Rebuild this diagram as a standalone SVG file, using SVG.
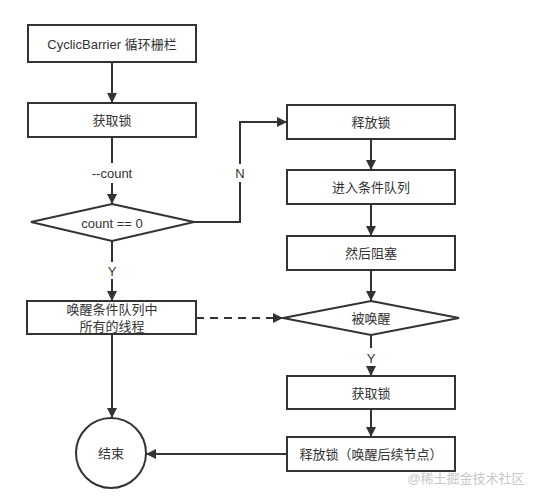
<svg xmlns="http://www.w3.org/2000/svg" width="534" height="496" viewBox="0 0 534 496">
<style>
.n{fill:#fff;stroke:#333;stroke-width:2}
.c{fill:none;stroke:#333;stroke-width:2}
.t{font-family:"Liberation Sans","Noto Sans CJK SC",sans-serif;font-size:13px;fill:#333;text-anchor:middle;dominant-baseline:central}
.l{font-family:"Liberation Sans","Noto Sans CJK SC",sans-serif;font-size:13px;fill:#333;text-anchor:middle;dominant-baseline:central}
</style>
<defs>
<marker id="a" viewBox="0 0 10 10" refX="10" refY="5" markerWidth="5" markerHeight="5" orient="auto" markerUnits="strokeWidth">
<path d="M0,0 L10,5 L0,10 z" fill="#333"/>
</marker>
</defs>
<rect width="534" height="496" fill="#fff"/>
<g id="connectors">
<path class="c" d="M112,62 V103" marker-end="url(#a)"/>
<path class="c" d="M112,137 V163 M112,183 V204" marker-end="url(#a)"/>
<path class="c" d="M194,222 H240 V182 M240,164 V122 H287" marker-end="url(#a)"/>
<path class="c" d="M112,241 V262 M112,279 V301" marker-end="url(#a)"/>
<path class="c" d="M371,139 V170" marker-end="url(#a)"/>
<path class="c" d="M371,204 V236" marker-end="url(#a)"/>
<path class="c" d="M371,270 V301" marker-end="url(#a)"/>
<path class="c" d="M196,318 H283" stroke-dasharray="8,6" marker-end="url(#a)"/>
<path class="c" d="M371,335 V348 M371,367 V376" marker-end="url(#a)"/>
<path class="c" d="M371,409 V437" marker-end="url(#a)"/>
<path class="c" d="M112,334 V418" marker-end="url(#a)"/>
<path class="c" d="M287,454 H146" marker-end="url(#a)"/>
<text class="l" x="112" y="173">--count</text>
<text class="l" x="240" y="173">N</text>
<text class="l" x="112" y="271">Y</text>
<text class="l" x="371" y="358">Y</text>
</g>
<g id="n1"><rect class="n" x="28" y="25" width="168" height="37"/><text class="t" x="112" y="44">CyclicBarrier 循环栅栏</text></g>
<g id="n2"><rect class="n" x="28" y="103" width="168" height="34"/><text class="t" x="112" y="120">获取锁</text></g>
<g id="n3"><polygon class="n" points="112,204 194,222 112,241 31,222"/><text class="t" x="112" y="223">count == 0</text></g>
<g id="n4"><rect class="n" x="27" y="301" width="169" height="33"/><text class="t" x="112" y="309">唤醒条件队列中</text><text class="t" x="112" y="326">所有的线程</text></g>
<g id="n5"><circle class="n" cx="111" cy="453" r="35"/><text class="t" x="111" y="453">结束</text></g>
<g id="n6"><rect class="n" x="287" y="105" width="168" height="34"/><text class="t" x="371" y="122">释放锁</text></g>
<g id="n7"><rect class="n" x="287" y="170" width="168" height="34"/><text class="t" x="371" y="187">进入条件队列</text></g>
<g id="n8"><rect class="n" x="287" y="236" width="168" height="34"/><text class="t" x="371" y="253">然后阻塞</text></g>
<g id="n9"><polygon class="n" points="371,301 459,318 371,335 283,318"/><text class="t" x="371" y="318">被唤醒</text></g>
<g id="n10"><rect class="n" x="287" y="376" width="168" height="33"/><text class="t" x="371" y="393">获取锁</text></g>
<g id="n11"><rect class="n" x="287" y="437" width="168" height="34"/><text class="t" x="371" y="454">释放锁（唤醒后续节点）</text></g>
<text x="466" y="478" font-family="Liberation Sans,Noto Sans CJK SC,sans-serif" font-size="13" fill="#c8c8c8" text-anchor="middle" dominant-baseline="central">@稀土掘金技术社区</text>
</svg>
